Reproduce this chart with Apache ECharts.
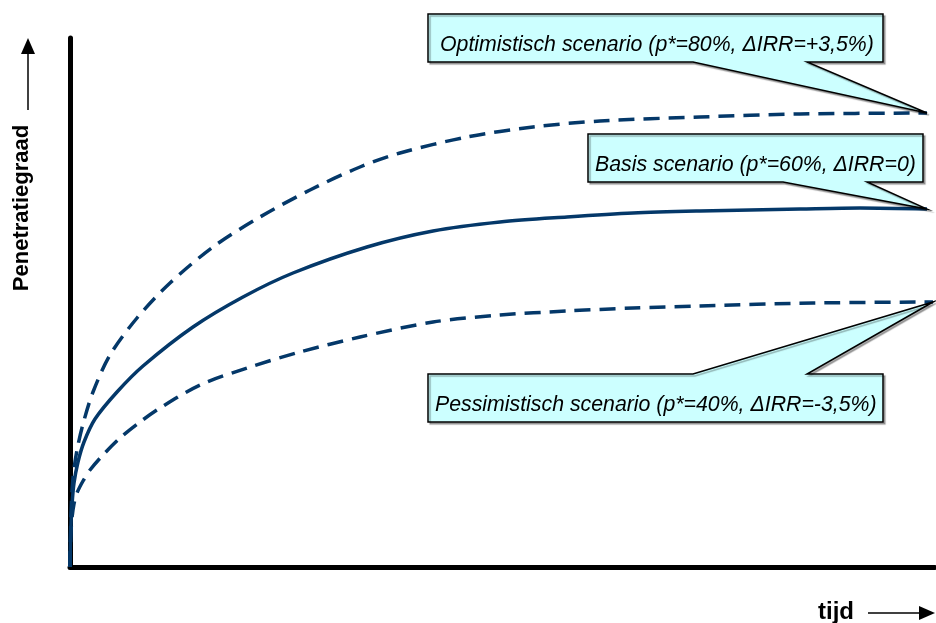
<!DOCTYPE html>
<html>
<head>
<meta charset="utf-8">
<style>
  html, body { margin: 0; padding: 0; background: #ffffff; }
  #chart { width: 936px; height: 623px; }
</style>
<script src="https://cdn.jsdelivr.net/npm/echarts@6/dist/echarts.min.js"></script>
</head>
<body>
<div id="chart"></div>
<script>
// ---- Data (arbitrary units: x = time 0..865, y = penetration 0..529) ----
const optimisticX = [0, 0.3, 0.8, 1.7, 3.5, 7, 13, 23, 40, 67, 100, 143, 190, 240, 290, 330, 397, 463, 530, 630, 730, 857];
const optimisticY = [0, 22, 47, 70, 94, 117, 143, 175, 212, 249, 284, 320, 350, 377, 400, 414, 430, 440, 446, 450, 453, 454];

const baseX = [0, 0.3, 0.9, 2, 4, 8, 14, 25, 47, 73, 123, 173, 223, 297, 363, 430, 497, 563, 630, 730, 790, 857];
const baseY = [0, 19, 40, 62, 84, 105, 125, 148, 175, 201, 240, 270, 294, 320, 336, 345, 350, 354, 356, 358, 359, 358];

const pessimisticX = [0, 0.4, 1, 2, 4, 7, 13, 20, 32, 50, 70, 90, 130, 177, 230, 290, 363, 430, 497, 563, 630, 743, 863];
const pessimisticY = [0, 19, 35, 49, 63, 74, 86, 97, 111, 129, 145, 159, 182, 199, 215, 230, 245, 252, 256, 259, 261, 264, 265];

const callouts = [
  'Optimistisch scenario (p*=80%, \u0394IRR=+3,5%)',
  'Basis scenario (p*=60%, \u0394IRR=0)',
  'Pessimistisch scenario (p*=40%, \u0394IRR=-3,5%)'
];
const yTitle = 'Penetratiegraad';
const xTitle = 'tijd';

const LINE = '#043869';
const FONT = "'Liberation Sans', Arial, sans-serif";

function pairs(xs, ys) { return xs.map((x, i) => [x, ys[i]]); }

const chart = echarts.init(document.getElementById('chart'), null, { renderer: 'canvas' });

const axisCommon = {
  type: 'value', min: 0,
  axisLine: { show: true, lineStyle: { color: '#000', width: 5 } },
  axisTick: { show: false }, axisLabel: { show: false }, splitLine: { show: false }
};

chart.setOption({
  animation: false,
  backgroundColor: '#ffffff',
  grid: { left: 70, right: 1, top: 38, bottom: 56 },
  xAxis: Object.assign({}, axisCommon, { max: 865 }),
  yAxis: Object.assign({}, axisCommon, { max: 529 }),
  series: [
    { type: 'line', name: 'opt', data: pairs(optimisticX, optimisticY), smooth: 0.3, symbol: 'none',
      lineStyle: { color: LINE, width: 3.5, type: [16, 9] }, z: 3 },
    { type: 'line', name: 'base', data: pairs(baseX, baseY), smooth: 0.3, symbol: 'none',
      lineStyle: { color: LINE, width: 3.5, type: 'solid' }, z: 3 },
    { type: 'line', name: 'pes', data: pairs(pessimisticX, pessimisticY), smooth: 0.3, symbol: 'none',
      lineStyle: { color: LINE, width: 3.5, type: [16, 9] }, z: 3 }
  ]
});

function tipOf(xs, ys) {
  return chart.convertToPixel({ gridIndex: 0 }, [xs[xs.length - 1], ys[ys.length - 1]]);
}
const tips = [tipOf(optimisticX, optimisticY), tipOf(baseX, baseY), tipOf(pessimisticX, pessimisticY)];

// Box layouts (pixels)
const boxes = [
  { l: 428, r: 883, t: 14, b: 62, p0: 693, p1: 807, side: 'bottom', tx: 440 },
  { l: 588, r: 923, t: 134, b: 182, p0: 783, p1: 867, side: 'bottom', tx: 595 },
  { l: 428, r: 883, t: 374, b: 422, p0: 693, p1: 807, side: 'top', tx: 435 }
];

const graphics = [];
boxes.forEach((bx, i) => {
  const tip = tips[i];
  let pts;
  if (bx.side === 'bottom') {
    pts = [[bx.l, bx.t], [bx.r, bx.t], [bx.r, bx.b], [bx.p1, bx.b], [tip[0], tip[1]], [bx.p0, bx.b], [bx.l, bx.b]];
  } else {
    pts = [[bx.l, bx.t], [bx.p0, bx.t], [tip[0], tip[1]], [bx.p1, bx.t], [bx.r, bx.t], [bx.r, bx.b], [bx.l, bx.b]];
  }
  graphics.push({
    type: 'polygon', z: 10,
    shape: { points: pts },
    style: { fill: '#ccffff', stroke: '#000', lineWidth: 1.5, shadowColor: 'rgba(0,0,0,0.3)', shadowOffsetX: 2, shadowOffsetY: 2, shadowBlur: 1 }
  });
  graphics.push({
    type: 'text', z: 11, x: bx.tx, y: bx.b - 17,
    style: { text: callouts[i], font: 'italic 21.3px ' + FONT, fill: '#000', align: 'left', verticalAlign: 'middle' }
  });
});

// Y-axis title, rotated
graphics.push({
  type: 'text', z: 11, x: 22, y: 208, rotation: Math.PI / 2,
  style: { text: yTitle, font: 'bold 22px ' + FONT, fill: '#000', align: 'center', verticalAlign: 'middle' }
});
// Y arrow
graphics.push({ type: 'line', z: 11, shape: { x1: 28, y1: 110, x2: 28, y2: 52 }, style: { stroke: '#000', lineWidth: 1.5 } });
graphics.push({ type: 'polygon', z: 11, shape: { points: [[28, 38], [21, 54], [35, 54]] }, style: { fill: '#000' } });

// X-axis title
graphics.push({
  type: 'text', z: 11, x: 818, y: 612,
  style: { text: xTitle, font: 'bold 24px ' + FONT, fill: '#000', align: 'left', verticalAlign: 'middle' }
});
graphics.push({ type: 'line', z: 11, shape: { x1: 868, y1: 613, x2: 922, y2: 613 }, style: { stroke: '#000', lineWidth: 1.5 } });
graphics.push({ type: 'polygon', z: 11, shape: { points: [[935, 613], [919, 606], [919, 620]] }, style: { fill: '#000' } });

chart.setOption({ graphic: graphics });
</script>
</body>
</html>
